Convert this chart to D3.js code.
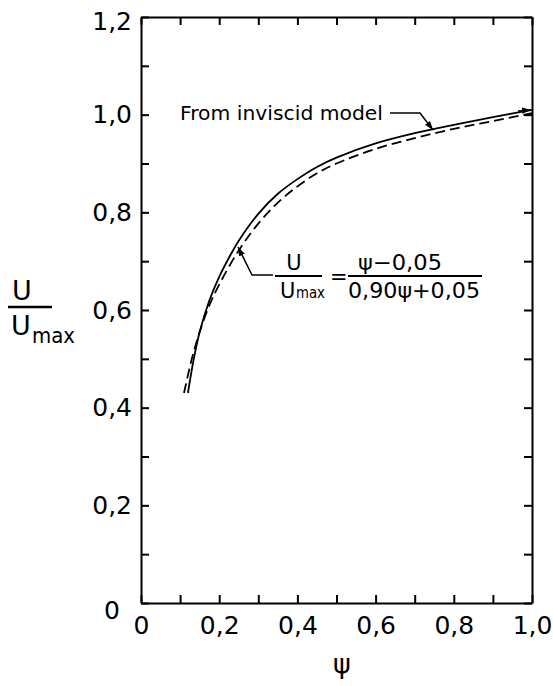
<!DOCTYPE html>
<html>
<head>
<meta charset="utf-8">
<script src="https://cdn.jsdelivr.net/npm/d3@7"></script>
<style>
  body { margin: 0; background: #fff; }
  svg { display: block; }
  text { font-family: "DejaVu Sans", sans-serif; fill: #000; }
</style>
</head>
<body>
<div id="chart-area"></div>
<script>
// solid curve (inviscid model)
var psiSolid = [0.12, 0.135, 0.15, 0.175, 0.2, 0.225, 0.25, 0.3, 0.35, 0.4, 0.45, 0.5, 0.6, 0.7, 0.8, 0.9, 1.0];
var uSolid   = [0.43, 0.50, 0.555, 0.62, 0.668, 0.707, 0.742, 0.797, 0.838, 0.868, 0.893, 0.912, 0.941, 0.962, 0.979, 0.995, 1.01];

// dashed curve (fitted formula)
var psiDashed = [0.11, 0.13, 0.15, 0.175, 0.2, 0.25, 0.3, 0.35, 0.4, 0.45, 0.5, 0.6, 0.7, 0.8, 0.9, 1.0];
var uDashed   = [0.43, 0.50, 0.555, 0.61, 0.652, 0.722, 0.777, 0.82, 0.853, 0.88, 0.9, 0.93, 0.952, 0.971, 0.987, 1.003];

var xMinorTicks = [0, 0.1, 0.2, 0.3, 0.4, 0.5, 0.6, 0.7, 0.8, 0.9, 1.0];
var yMinorTicks = [0, 0.1, 0.2, 0.3, 0.4, 0.5, 0.6, 0.7, 0.8, 0.9, 1.0, 1.1, 1.2];
var xMajorTicks = [0, 0.2, 0.4, 0.6, 0.8, 1.0];
var yMajorTicks = [0, 0.2, 0.4, 0.6, 0.8, 1.0, 1.2];
var xTickLabels = ["0", "0,2", "0,4", "0,6", "0,8", "1,0"];
var yTickLabels = ["0", "0,2", "0,4", "0,6", "0,8", "1,0", "1,2"];

var margin = {left: 141, right: 21, top: 17, bottom: 83};
var width = 553 - margin.left - margin.right;
var height = 686 - margin.top - margin.bottom;

var svg = d3.select("#chart-area").append("svg")
    .attr("width", 553)
    .attr("height", 686);

var defs = svg.append("defs");
defs.append("marker")
    .attr("id", "arrow")
    .attr("viewBox", "0 0 10 10")
    .attr("refX", 10)
    .attr("refY", 5)
    .attr("markerWidth", 9)
    .attr("markerHeight", 9)
    .attr("markerUnits", "userSpaceOnUse")
    .attr("orient", "auto")
  .append("path")
    .attr("d", "M0,1.5 L10,5 L0,8.5 Z")
    .attr("fill", "#000");

var g = svg.append("g")
    .attr("transform", "translate(" + margin.left + ", " + margin.top + ")");

var x = d3.scaleLinear()
  .domain([0, 1])
  .range([0, width]);

var y = d3.scaleLinear()
  .domain([0, 1.2])
  .range([height, 0]);

// inward ticks on all four sides
function tickAxis(axis, tx, ty) {
  var a = g.append("g")
    .attr("transform", "translate(" + tx + "," + ty + ")")
    .call(axis.tickSize(-8).tickSizeOuter(0).tickFormat(""));
  a.select(".domain").attr("stroke-width", 2);
  a.selectAll(".tick line").attr("stroke-width", 2);
}
tickAxis(d3.axisBottom(x).tickValues(xMinorTicks), 0, height);
tickAxis(d3.axisTop(x).tickValues(xMinorTicks), 0, 0);
tickAxis(d3.axisLeft(y).tickValues(yMinorTicks), 0, 0);
tickAxis(d3.axisRight(y).tickValues(yMinorTicks), width, 0);

// tick labels
var xLab = g.append("g")
  .attr("transform", "translate(0," + height + ")")
  .call(d3.axisBottom(x).tickValues(xMajorTicks).tickSize(0).tickPadding(13)
    .tickFormat((d, i) => xTickLabels[i]));
xLab.select(".domain").remove();
xLab.selectAll("text").attr("font-size", "25px").attr("font-family", "DejaVu Sans");

var yLab = g.append("g")
  .call(d3.axisLeft(y).tickValues(yMajorTicks).tickSize(0).tickPadding(9)
    .tickFormat((d, i) => yTickLabels[i]));
yLab.select(".domain").remove();
yLab.selectAll("text").attr("font-size", "25px").attr("font-family", "DejaVu Sans");
yLab.selectAll(".tick").filter(d => d === 0).select("text")
  .attr("x", -21)
  .attr("dy", "0.62em");
yLab.selectAll(".tick").filter(d => d === 1.2).select("text")
  .attr("dy", "0.5em");

// curves
var line = d3.line()
  .x(d => x(d[0]))
  .y(d => y(d[1]))
  .curve(d3.curveCatmullRom);

g.append("path")
  .datum(psiSolid.map((p, i) => [p, uSolid[i]]))
  .attr("fill", "none")
  .attr("stroke", "#000")
  .attr("stroke-width", 1.8)
  .attr("d", line);

g.append("path")
  .datum(psiDashed.map((p, i) => [p, uDashed[i]]))
  .attr("fill", "none")
  .attr("stroke", "#000")
  .attr("stroke-width", 1.8)
  .attr("stroke-dasharray", "10,5")
  .attr("d", line);

// inviscid model annotation
svg.append("text")
  .attr("x", 180)
  .attr("y", 120)
  .attr("font-size", "20px")
  .attr("textLength", 203)
  .attr("lengthAdjust", "spacingAndGlyphs")
  .text("From inviscid  model");

svg.append("polyline")
  .attr("points", "390,113 420,113 433,130")
  .attr("fill", "none")
  .attr("stroke", "#000")
  .attr("stroke-width", 1.5)
  .attr("marker-end", "url(#arrow)");

svg.append("line")
  .attr("x1", 518).attr("y1", 111)
  .attr("x2", 531).attr("y2", 110)
  .attr("stroke", "#000")
  .attr("stroke-width", 1.5)
  .attr("marker-end", "url(#arrow)");

// equation annotation
svg.append("polyline")
  .attr("points", "273,275 252,275 238,247")
  .attr("fill", "none")
  .attr("stroke", "#000")
  .attr("stroke-width", 1.5)
  .attr("marker-end", "url(#arrow)");

svg.append("text").attr("x", 294).attr("y", 270).attr("font-size", "21px")
  .attr("text-anchor", "middle").text("U");
svg.append("line").attr("x1", 275).attr("x2", 322).attr("y1", 276).attr("y2", 276)
  .attr("stroke", "#000").attr("stroke-width", 2);
svg.append("text").attr("x", 280).attr("y", 298).attr("font-size", "21px")
  .text("U");
svg.append("text").attr("x", 296).attr("y", 298).attr("font-size", "16px")
  .attr("textLength", 29).attr("lengthAdjust", "spacingAndGlyphs").text("max");
svg.append("text").attr("x", 330).attr("y", 284).attr("font-size", "21px")
  .text("=");
svg.append("text").attr("x", 400).attr("y", 270).attr("font-size", "21px")
  .attr("text-anchor", "middle")
  .attr("textLength", 84).attr("lengthAdjust", "spacingAndGlyphs")
  .text("ψ−0,05");
svg.append("line").attr("x1", 348).attr("x2", 482).attr("y1", 276).attr("y2", 276)
  .attr("stroke", "#000").attr("stroke-width", 2);
svg.append("text").attr("x", 348).attr("y", 298).attr("font-size", "21px")
  .attr("textLength", 132).attr("lengthAdjust", "spacingAndGlyphs")
  .text("0,90ψ+0,05");

// y axis title U / Umax
svg.append("text").attr("x", 22).attr("y", 300).attr("font-size", "27px")
  .attr("text-anchor", "middle").text("U");
svg.append("line").attr("x1", 8).attr("x2", 52).attr("y1", 307).attr("y2", 307)
  .attr("stroke", "#000").attr("stroke-width", 2.5);
svg.append("text").attr("x", 11).attr("y", 335).attr("font-size", "27px")
  .text("U");
svg.append("text").attr("x", 32).attr("y", 343).attr("font-size", "21px")
  .attr("textLength", 43).attr("lengthAdjust", "spacingAndGlyphs").text("max");

// x axis title
svg.append("text").attr("x", 342).attr("y", 673).attr("font-size", "27px")
  .attr("text-anchor", "middle").text("ψ");
</script>
</body>
</html>
